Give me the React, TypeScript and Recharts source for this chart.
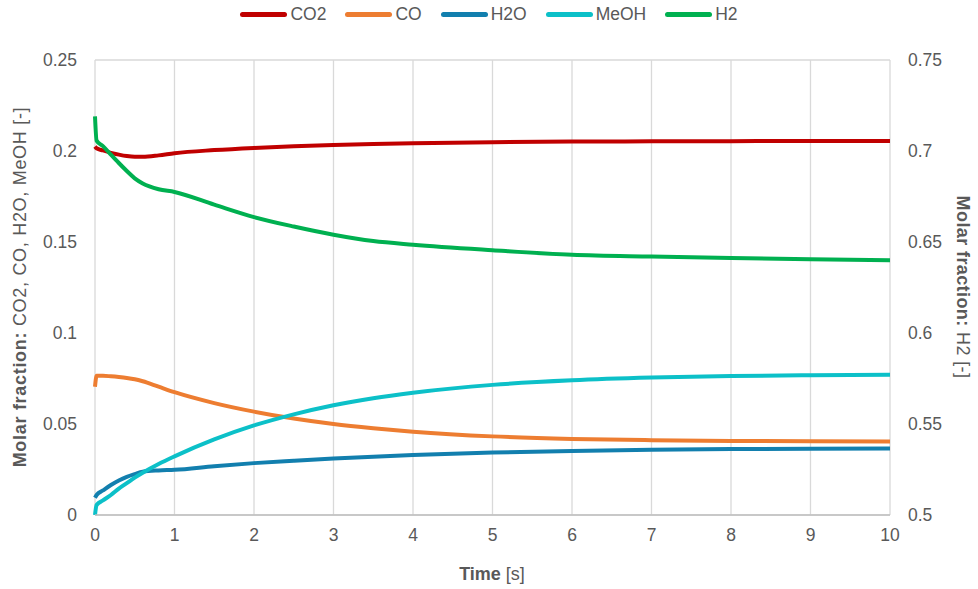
import { LineChart, Line, XAxis, YAxis, CartesianGrid } from 'recharts';

// time axis [s]
const time = [0, 0.02, 0.1, 0.2, 0.3, 0.4, 0.5, 0.6, 0.8, 1, 1.5, 2, 2.5, 3, 3.5, 4, 5, 6, 7, 8, 9, 10];

// molar fractions (left axis)
const co2 = [0.2025, 0.2015, 0.2003, 0.199, 0.198, 0.1972, 0.1968, 0.1968, 0.1976, 0.1988, 0.2005, 0.2017, 0.2026, 0.2033, 0.2038, 0.2042, 0.2048, 0.2052, 0.2053, 0.2054, 0.2055, 0.2055];
const co = [0.0705, 0.0765, 0.0765, 0.0762, 0.0758, 0.0753, 0.0746, 0.0735, 0.0705, 0.0675, 0.0615, 0.0568, 0.053, 0.05, 0.0477, 0.0458, 0.0432, 0.0418, 0.0411, 0.0407, 0.0405, 0.0404];
const h2o = [0.0095, 0.011, 0.0135, 0.0165, 0.019, 0.021, 0.0225, 0.0238, 0.0245, 0.0248, 0.0268, 0.0285, 0.0298, 0.031, 0.032, 0.0329, 0.0343, 0.0352, 0.0358, 0.0362, 0.0364, 0.0365];
const meoh = [0, 0.0055, 0.008, 0.011, 0.0145, 0.0175, 0.0205, 0.0232, 0.028, 0.0322, 0.0415, 0.0492, 0.0553, 0.0603, 0.0642, 0.0672, 0.0715, 0.074, 0.0755, 0.0764, 0.0768, 0.077];
// H2 (right axis)
const h2 = [0.719, 0.7057, 0.7027, 0.698, 0.6934, 0.689, 0.685, 0.6822, 0.679, 0.6775, 0.6705, 0.6637, 0.6585, 0.654, 0.6505, 0.6485, 0.6455, 0.643, 0.642, 0.6412, 0.6405, 0.64];

const xTicks = [0, 1, 2, 3, 4, 5, 6, 7, 8, 9, 10];
const leftTicks = [0, 0.05, 0.1, 0.15, 0.2, 0.25];
const rightTicks = [0.5, 0.55, 0.6, 0.65, 0.7, 0.75];

const series = [
  { key: 'CO2', color: '#c00000', axis: 'left' },
  { key: 'CO', color: '#ed7d31', axis: 'left' },
  { key: 'H2O', color: '#127fae', axis: 'left' },
  { key: 'MeOH', color: '#0cc0c8', axis: 'left' },
  { key: 'H2', color: '#00b050', axis: 'right' },
];

const data = time.map((t, i) => ({
  t,
  CO2: co2[i],
  CO: co[i],
  H2O: h2o[i],
  MeOH: meoh[i],
  H2: h2[i],
}));

const FONT = '"Liberation Sans", Arial, sans-serif';
const TEXT = '#595959';
const tickStyle = { fill: TEXT, fontSize: 17.5, fontFamily: FONT };

export default function App() {
  return (
    <div style={{ position: 'absolute', left: 0, top: 0, width: 978, height: 589, background: '#fff', fontFamily: FONT }}>
      <LineChart width={978} height={589} data={data} margin={{ top: 60, right: 28, bottom: 24, left: 30 }}>
        <CartesianGrid stroke="#d9d9d9" strokeWidth={1.3} />
        <XAxis
          dataKey="t"
          type="number"
          domain={[0, 10]}
          ticks={xTicks}
          height={50}
          axisLine={{ stroke: '#bfbfbf', strokeWidth: 1.3 }}
          tickLine={false}
          tick={tickStyle}
          tickMargin={8}
        />
        <YAxis
          yAxisId="left"
          domain={[0, 0.25]}
          ticks={leftTicks}
          width={65}
          axisLine={false}
          tickLine={false}
          tick={tickStyle}
          tickMargin={12}
        />
        <YAxis
          yAxisId="right"
          orientation="right"
          domain={[0.5, 0.75]}
          ticks={rightTicks}
          width={60}
          axisLine={false}
          tickLine={false}
          tick={tickStyle}
          tickMargin={12}
        />
        {series.map((s) => (
          <Line
            key={s.key}
            yAxisId={s.axis}
            dataKey={s.key}
            stroke={s.color}
            strokeWidth={4}
            type="monotone"
            dot={false}
            isAnimationActive={false}
          />
        ))}
      </LineChart>

      {/* legend */}
      <div style={{ position: 'absolute', top: 4, left: 0, width: 978, display: 'flex', justifyContent: 'center', gap: 19, fontSize: 17.5, color: TEXT }}>
        {series.map((s) => (
          <div key={s.key} style={{ display: 'flex', alignItems: 'center', gap: 3 }}>
            <div style={{ width: 47, height: 4.5, borderRadius: 2.5, background: s.color }} />
            <span>{s.key}</span>
          </div>
        ))}
      </div>

      {/* axis titles */}
      <div style={{ position: 'absolute', left: 20, top: 287, transform: 'translate(-50%, -50%) rotate(-90deg)', whiteSpace: 'nowrap', fontSize: 18, letterSpacing: 0.7, color: TEXT }}>
        <b>Molar fraction:</b> CO2, CO, H2O, MeOH [-]
      </div>
      <div style={{ position: 'absolute', left: 962, top: 287, transform: 'translate(-50%, -50%) rotate(90deg)', whiteSpace: 'nowrap', fontSize: 18, letterSpacing: 0.4, color: TEXT }}>
        <b>Molar fraction:</b> H2 [-]
      </div>
      <div style={{ position: 'absolute', left: 492, top: 574, transform: 'translate(-50%, -50%)', whiteSpace: 'nowrap', fontSize: 18, color: TEXT }}>
        <b>Time</b> [s]
      </div>
    </div>
  );
}
